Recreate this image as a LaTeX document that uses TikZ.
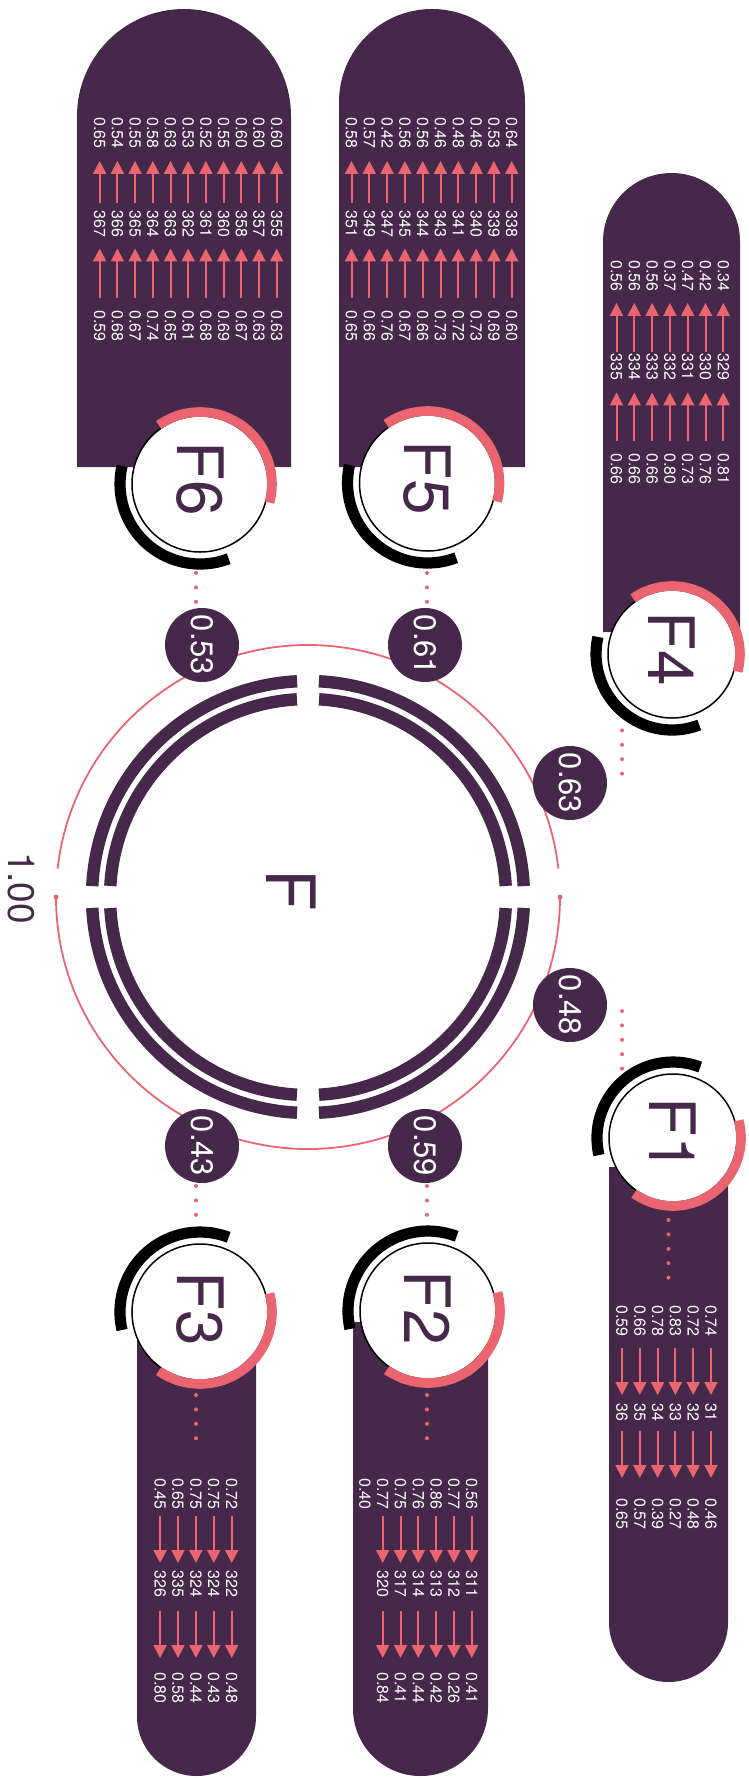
\documentclass[tikz,border=0pt]{standalone}
\usepackage{fontspec}
\setmainfont{TeX Gyre Heros}
\usetikzlibrary{arrows.meta}
\definecolor{hubplum}{HTML}{46284A}
\definecolor{flowcoral}{HTML}{EA6570}

\begin{document}
\begin{tikzpicture}[
  x=0.5pt,
  y=-0.5pt,
  line join=round,
  hubring/.style={draw=hubplum,line width=6.2pt},
  hubline/.style={draw=flowcoral,line width=0.9pt},
  valbubble/.style={circle,fill=hubplum,text=white,minimum size=37pt,inner sep=0pt,rotate=-90,font=\fontsize{15.5}{16}\selectfont},
  valtext/.style={text=white,rotate=-90,anchor=west,inner sep=0pt,font=\fontsize{8}{9}\selectfont},
  flowarrow/.style={draw=flowcoral,line width=1pt,-{Triangle[length=6.5pt,width=6.5pt]}},
  dotline/.style={draw=flowcoral,line width=2pt,line cap=round,dash pattern=on 0pt off 7.2pt},
  satring/.style={circle,draw=black,line width=0.75pt,fill=white,inner sep=0pt},
  flabel/.style={text=hubplum,rotate=-90,inner sep=0pt,font=\fontsize{32}{32}\selectfont},
  hublabel/.style={text=hubplum,rotate=-90,inner sep=0pt,font=\fontsize{34}{34}\selectfont},
  totallabel/.style={text=hubplum,rotate=-90,inner sep=0pt,font=\fontsize{18.5}{19}\selectfont},
  redarc/.style={draw=flowcoral,line width=4.8pt},
  blackarc/.style={draw=black,line width=5.6pt},
  tablebox/.style={fill=hubplum}
]
  \newcommand{\flowcol}[5]{%
    \node[valtext] (#1-a) at (#2,\firsttop) {#3};
    \node[valtext] (#1-b) at (#2,\midtop) {#4};
    \node[valtext] (#1-c) at (#2,\lasttop) {#5};
  }

  \useasboundingbox (0,0) rectangle (749,1778);

  % Hub: thin outline with its two markers, then the split double ring.
  \coordinate (hub) at (308,897);
  \draw[hubline] ([shift={(hub)}]0:252) arc[start angle=0,end angle=180,radius=252];
  \draw[hubline] ([shift={(hub)}]186.5:252) arc[start angle=186.5,end angle=353.5,radius=252];
  \fill[flowcoral] ([shift={(hub)}]0:252) circle[radius=2.5];
  \fill[flowcoral] ([shift={(hub)}]180:252) circle[radius=2.5];
  \foreach \a/\b in {2.9/87.1,92.9/177.1,182.9/267.1,272.9/357.1} {
    \draw[hubring] ([shift={(hub)}]\a:216) arc[start angle=\a,end angle=\b,radius=216];
  }
  \foreach \a/\b in {3.2/86.8,93.2/176.8,183.2/266.8,273.2/356.8} {
    \draw[hubring] ([shift={(hub)}]\a:198) arc[start angle=\a,end angle=\b,radius=198];
  }
  \node[hublabel] (hubname) at (291,890) {F};
  \node[totallabel] (hubtotal) at (21,888) {1.00};

  % Value bubbles sitting on the outline.
  \node[valbubble] (v63) at (570,783) {0.63};
  \node[valbubble] (v48) at (570,1005) {0.48};
  \node[valbubble] (v61) at (425,645) {0.61};
  \node[valbubble] (v53) at (202,645) {0.53};
  \node[valbubble] (v59) at (425,1146) {0.59};
  \node[valbubble] (v43) at (202,1146) {0.43};

  % Table panels behind the satellites.
  \fill[tablebox] (603,632) -- (603,241.5) arc[start angle=180,end angle=360,radius=68.5] -- (740,632) -- cycle;
  \fill[tablebox] (339,467) -- (339,102) arc[start angle=180,end angle=360,radius=93] -- (525,467) -- cycle;
  \fill[tablebox] (77,467) -- (77,116) arc[start angle=180,end angle=360,radius=107] -- (291,467) -- cycle;
  \fill[tablebox] (609,1167) -- (609,1622.5) arc[start angle=180,end angle=0,radius=59.5] -- (728,1167) -- cycle;
  \fill[tablebox] (353,1322) -- (353,1708.5) arc[start angle=180,end angle=0,radius=67.5] -- (488,1322) -- cycle;
  \fill[tablebox] (137,1322) -- (137,1716.5) arc[start angle=180,end angle=0,radius=59.5] -- (256,1322) -- cycle;

  % F4 table
  \def\firsttop{260}\def\midtop{353}\def\lasttop{453}
  \foreach \fa/\fb/\fc [count=\i] in {0.34/329/0.81,0.42/330/0.76,0.47/331/0.73,0.37/332/0.80,0.56/333/0.66,0.56/334/0.66,0.56/335/0.66} {
    \pgfmathsetmacro\colx{723.3-17.8*(\i-1)}
    \flowcol{f4-\i}{\colx}{\fa}{\fb}{\fc}
    \draw[flowarrow,shorten <=0.5pt,shorten >=5.5pt] (f4-\i-b) -- (f4-\i-a);
    \draw[flowarrow,shorten <=6pt,shorten >=6pt] (f4-\i-c) -- (f4-\i-b);
  }

  % F5 table
  \def\firsttop{117}\def\midtop{210}\def\lasttop{310}
  \foreach \fa/\fb/\fc [count=\i] in {0.64/338/0.60,0.53/339/0.69,0.46/340/0.73,0.48/341/0.72,0.46/343/0.73,0.56/344/0.66,0.56/345/0.67,0.42/347/0.76,0.57/349/0.66,0.58/351/0.65} {
    \pgfmathsetmacro\colx{511.7-17.8*(\i-1)}
    \flowcol{f5-\i}{\colx}{\fa}{\fb}{\fc}
    \draw[flowarrow,shorten <=3.5pt,shorten >=6pt] (f5-\i-b) -- (f5-\i-a);
    \draw[flowarrow,shorten <=6pt,shorten >=5.5pt] (f5-\i-c) -- (f5-\i-b);
  }

  % F6 table
  \foreach \fa/\fb/\fc [count=\i] in {0.60/355/0.63,0.60/357/0.63,0.60/358/0.67,0.55/360/0.69,0.52/361/0.68,0.53/362/0.61,0.63/363/0.65,0.58/364/0.74,0.55/365/0.67,0.54/366/0.68,0.65/367/0.59} {
    \pgfmathsetmacro\colx{276.7-17.7*(\i-1)}
    \flowcol{f6-\i}{\colx}{\fa}{\fb}{\fc}
    \draw[flowarrow,shorten <=3.5pt,shorten >=6pt] (f6-\i-b) -- (f6-\i-a);
    \draw[flowarrow,shorten <=6pt,shorten >=5.5pt] (f6-\i-c) -- (f6-\i-b);
  }

  % F1 table
  \def\firsttop{1305}\def\midtop{1403}\def\lasttop{1498}
  \foreach \fa/\fb/\fc [count=\i] in {0.74/31/0.46,0.72/32/0.48,0.83/33/0.27,0.78/34/0.39,0.66/35/0.57,0.59/36/0.65} {
    \pgfmathsetmacro\colx{711-17.8*(\i-1)}
    \flowcol{f1-\i}{\colx}{\fa}{\fb}{\fc}
    \draw[flowarrow,shorten <=5.5pt,shorten >=4pt] (f1-\i-a) -- (f1-\i-b);
    \draw[flowarrow,shorten <=4.5pt,shorten >=10pt] (f1-\i-b) -- (f1-\i-c);
  }

  % F2 table
  \def\firsttop{1478}\def\midtop{1570}\def\lasttop{1672}
  \foreach \fa/\fb/\fc [count=\i] in {0.56/311/0.41,0.77/312/0.26,0.86/313/0.42,0.76/314/0.44,0.75/317/0.41,0.77/320/0.84} {
    \pgfmathsetmacro\colx{471.7-17.8*(\i-1)}
    \flowcol{f2-\i}{\colx}{\fa}{\fb}{\fc}
    \draw[flowarrow,shorten <=3pt,shorten >=3.5pt] (f2-\i-a) -- (f2-\i-b);
    \draw[flowarrow,shorten <=6.5pt,shorten >=7pt] (f2-\i-b) -- (f2-\i-c);
  }
  \node[valtext] (f2-7-a) at (364.9,1478) {0.40};

  % F3 table
  \foreach \fa/\fb/\fc [count=\i] in {0.72/322/0.48,0.75/324/0.43,0.75/324/0.44,0.65/335/0.58,0.45/326/0.80} {
    \pgfmathsetmacro\colx{231.7-17.9*(\i-1)}
    \flowcol{f3-\i}{\colx}{\fa}{\fb}{\fc}
    \draw[flowarrow,shorten <=3pt,shorten >=3.5pt] (f3-\i-a) -- (f3-\i-b);
    \draw[flowarrow,shorten <=6.5pt,shorten >=7pt] (f3-\i-b) -- (f3-\i-c);
  }

  % Dotted leads.
  \coordinate (d4a) at (622,716);   \coordinate (d4b) at (622,774);
  \coordinate (d1a) at (622,1011);  \coordinate (d1b) at (622,1069);
  \coordinate (d1c) at (668.5,1220);\coordinate (d1d) at (668.5,1278);
  \coordinate (d5a) at (427,573);   \coordinate (d5b) at (427,602);
  \coordinate (d6a) at (196,573);   \coordinate (d6b) at (196,602);
  \coordinate (d2a) at (427,1186);  \coordinate (d2b) at (427,1215);
  \coordinate (d2c) at (427,1395);  \coordinate (d2d) at (427,1439);
  \coordinate (d3a) at (196,1186);  \coordinate (d3b) at (196,1215);
  \coordinate (d3c) at (196,1395);  \coordinate (d3d) at (196,1439);
  \foreach \p/\q in {d4a/d4b,d1a/d1b,d1c/d1d,d5a/d5b,d6a/d6b,d2a/d2b,d2c/d2d,d3a/d3b,d3c/d3d} {
    \draw[dotline] (\p) -- (\q);
  }

  % Satellites above the hub.
  \foreach \s/\cx/\cy/\rad/\lab in {f4/672/654/64/F4,f5/427.5/483/68/F5,f6/200/484/68/F6} {
    \node[satring,minimum size=\rad pt] (\s) at (\cx,\cy) {};
    \node[flabel] (\s-label) at ([yshift=2.5pt]\s.center) {\lab};
    \pgfmathsetmacro\rr{\rad+4}
    \pgfmathsetmacro\rb{\rad+12}
    \draw[redarc] ([shift={(\s.center)}]-125:\rr) arc[start angle=-125,end angle=15,radius=\rr];
    \draw[blackarc] ([shift={(\s.center)}]69:\rb) arc[start angle=69,end angle=193,radius=\rb];
  }

  % Satellites below the hub.
  \foreach \s/\cx/\cy/\rad/\lab in {f1/673/1138/64/F1,f2/428/1311/68/F2,f3/200/1312/68/F3} {
    \node[satring,minimum size=\rad pt] (\s) at (\cx,\cy) {};
    \node[flabel] (\s-label) at ([yshift=1.5pt]\s.center) {\lab};
    \pgfmathsetmacro\rr{\rad+4}
    \pgfmathsetmacro\rb{\rad+12}
    \draw[redarc] ([shift={(\s.center)}]-15:\rr) arc[start angle=-15,end angle=125,radius=\rr];
    \draw[blackarc] ([shift={(\s.center)}]167:\rb) arc[start angle=167,end angle=291,radius=\rb];
  }
\end{tikzpicture}
\end{document}
